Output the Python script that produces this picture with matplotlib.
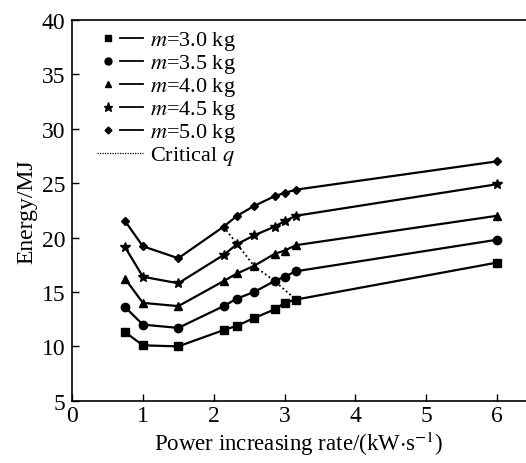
import numpy as np
import matplotlib.pyplot as plt
from matplotlib.lines import Line2D
from matplotlib.legend_handler import HandlerTuple

plt.rcParams['font.family'] = ['Liberation Serif', 'DejaVu Serif']
plt.rcParams['mathtext.fontset'] = 'stix'

# dati
q = [0.75, 1.0, 1.5, 2.14, 2.33, 2.57, 2.86, 3.0, 3.16, 6.0]
masse = ['3.0', '3.5', '4.0', '4.5', '5.0']
E_30 = [11.3, 10.1, 10.0, 11.5, 11.9, 12.6, 13.4, 14.0, 14.3, 17.7]
E_35 = [13.6, 12.0, 11.7, 13.7, 14.4, 15.0, 16.0, 16.4, 16.9, 19.8]
E_40 = [16.2, 14.0, 13.7, 16.0, 16.7, 17.4, 18.5, 18.8, 19.3, 22.0]
E_45 = [19.1, 16.4, 15.8, 18.4, 19.4, 20.2, 21.0, 21.5, 22.0, 24.9]
E_50 = [21.5, 19.2, 18.1, 21.0, 22.0, 22.9, 23.8, 24.1, 24.4, 27.0]
serie = [E_30, E_35, E_40, E_45, E_50]
marker = ['s', 'o', '^', '*', 'D']
msize = [5.5, 6, 6, 7.5, 4.5]

# q critico
q_crit = [2.14, 2.33, 2.57, 2.86, 3.16]
E_crit = [21.0, 19.4, 17.4, 16.0, 14.3]

fig = plt.figure(figsize=(5.26, 4.64), dpi=100)
ax = fig.add_axes([0.137, 0.134, 0.863, 0.821])

handles = []
labels = []
for m, E, mk, ms in zip(masse, serie, marker, msize):
    ax.plot(q, E, color='black', lw=1.6, marker=mk, ms=ms)
    h_mk = Line2D([], [], color='black', marker=mk, ms=ms - 1, ls='none')
    h_ln = Line2D([], [], color='black', lw=1.3)
    handles.append((h_mk, h_ln))
    labels.append(r'$m$=' + m + ' kg')

ax.plot(q_crit, E_crit, color='black', lw=1.3, ls=(0, (1, 1.5)))
handles.append(Line2D([], [], color='black', lw=0.9, ls=(0, (1, 1))))
labels.append(r'Critical $q$')

ax.legend(handles, labels, loc='upper left', bbox_to_anchor=(0.025, 1.01),
          frameon=False, fontsize=16, handlelength=2.1, handletextpad=0.3,
          labelspacing=0.0, borderaxespad=0.2,
          handler_map={tuple: HandlerTuple(ndivide=None, pad=0.0)})

ax.set_xlim(0, 6.41)
ax.set_ylim(5, 40)
ax.set_xticks([0, 1, 2, 3, 4, 5, 6])
ax.set_yticks([5, 10, 15, 20, 25, 30, 35, 40])
ax.tick_params(direction='in', labelsize=17, length=5, width=1)
ax.tick_params(axis='x', pad=3)
ax.tick_params(axis='y', pad=5)
ax.spines['right'].set_visible(False)
for s in ['left', 'bottom', 'top']:
    ax.spines[s].set_linewidth(1.2)

ax.set_xlabel(r'Power increasing rate/(kW$\cdot$s$^{-1}$)', fontsize=16.5, labelpad=2)
ax.set_ylabel('Energy/MJ', fontsize=17, labelpad=3)

fig.savefig('out.png', dpi=100)
